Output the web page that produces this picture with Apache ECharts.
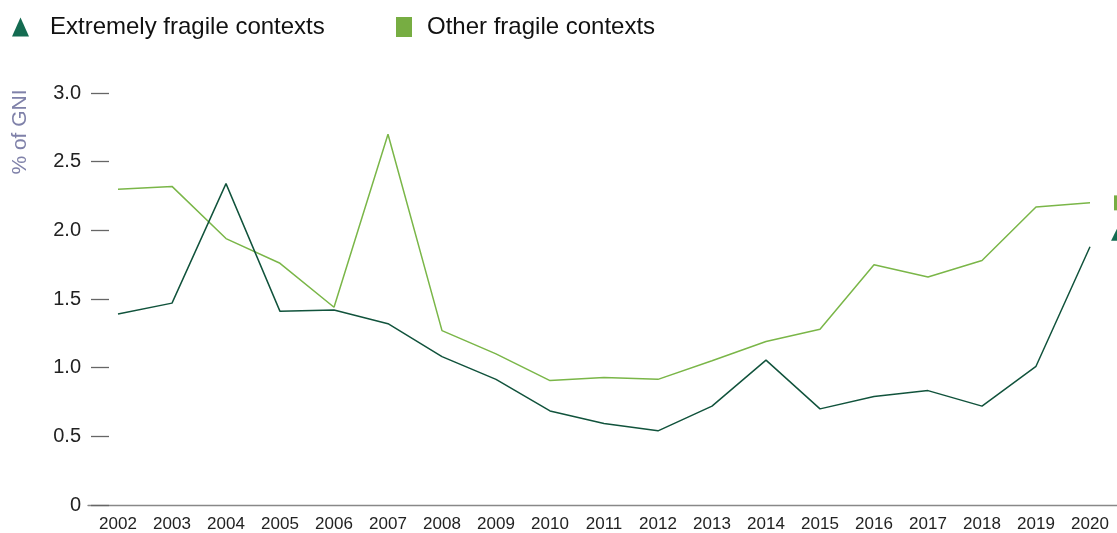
<!DOCTYPE html>
<html>
<head>
<meta charset="utf-8">
<script src="https://cdn.jsdelivr.net/npm/echarts@6/dist/echarts.min.js"></script>
<style>
html,body{margin:0;padding:0;background:#fff;}
#chart{width:1117px;height:533px;}
</style>
</head>
<body>
<div id="chart"></div>
<script>
var years = [2002,2003,2004,2005,2006,2007,2008,2009,2010,2011,2012,2013,2014,2015,2016,2017,2018,2019,2020];
var extremelyFragile = [1.39,1.47,2.34,1.41,1.42,1.32,1.08,0.915,0.685,0.593,0.54,0.72,1.055,0.70,0.79,0.833,0.72,1.01,1.88];
var otherFragile = [2.30,2.32,1.94,1.76,1.44,2.70,1.27,1.10,0.906,0.928,0.915,1.05,1.19,1.28,1.75,1.66,1.78,2.17,2.20];
var yTicks = [0,0.5,1.0,1.5,2.0,2.5,3.0];
var seriesNames = ['Extremely fragile contexts','Other fragile contexts'];

var darkColor = '#11533c', darkIcon = '#146b51';
var lightColor = '#7ab648', lightIcon = '#77ad42';
var FONT = '"Liberation Sans", Arial, Helvetica, sans-serif';

function pairs(vals){ return vals.map(function(v,i){ return [years[i], v]; }); }

var chart = echarts.init(document.getElementById('chart'), null, {renderer:'canvas'});
chart.setOption({
  animation:false,
  backgroundColor:'#fff',
  textStyle:{fontFamily:FONT},
  grid:{left:88, right:0, top:93, bottom:27, containLabel:false},
  legend:[{
    left:12, top:15, padding:0, icon:'triangle', itemWidth:17, itemHeight:19,
    data:[{name:seriesNames[0], itemStyle:{color:darkIcon}}],
    textStyle:{fontSize:24, color:'#111', fontFamily:FONT, padding:[0,0,0,16]}
  },{
    left:396, top:15, padding:0, icon:'rect', itemWidth:16, itemHeight:20,
    data:[{name:seriesNames[1], itemStyle:{color:lightIcon}}],
    textStyle:{fontSize:24, color:'#111', fontFamily:FONT, padding:[0,0,0,10]}
  }],
  xAxis:{
    type:'value', min:2002 - 30/54, max:2020.5,
    axisLine:{show:true, lineStyle:{color:'#888', width:1.3}},
    axisTick:{show:false},
    splitLine:{show:false},
    axisLabel:{customValues:years, color:'#222', fontSize:17, margin:11, fontFamily:FONT,
      formatter:function(v){return String(v);}}
  },
  yAxis:{
    type:'value', min:0, max:3, interval:0.5, offset:-21,
    axisLine:{show:false},
    axisTick:{show:true, length:18, lineStyle:{color:'#666', width:1.3}},
    splitLine:{show:false},
    axisLabel:{color:'#222', fontSize:20, margin:28, fontFamily:FONT,
      formatter:function(v){ return v===0 ? '0' : v.toFixed(1); }}
  },
  graphic:[{
    type:'text', x:20, y:132, rotation:Math.PI/2,
    style:{text:'% of GNI', fill:'#7f81a9', font:'21px ' + FONT, textAlign:'center', textVerticalAlign:'middle'}
  }],
  series:[{
    name:seriesNames[0], type:'line', data:pairs(extremelyFragile),
    showSymbol:false, symbol:'none', color:darkColor,
    lineStyle:{color:darkColor, width:1.5},
    endLabel:{show:true, formatter:'▲', color:darkIcon, fontSize:22, fontFamily:'DejaVu Sans', distance:21, offset:[0,-15]},
    z:3
  },{
    name:seriesNames[1], type:'line', data:pairs(otherFragile),
    showSymbol:false, symbol:'none', color:lightColor,
    lineStyle:{color:lightColor, width:1.5},
    endLabel:{show:true, formatter:'{s|}', distance:24, rich:{s:{width:16, height:15, backgroundColor:lightIcon}}},
    z:2
  }]
});
</script>
</body>
</html>
